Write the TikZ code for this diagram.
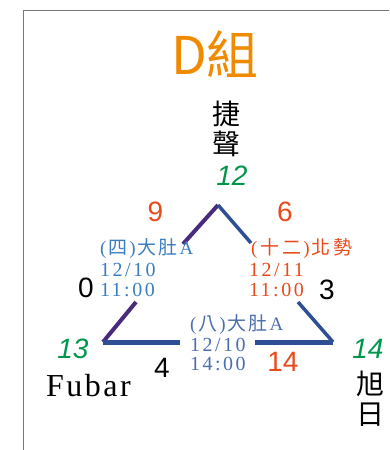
\documentclass[tikz,border=0pt]{standalone}
\usepackage{fontspec}
\setmainfont{Liberation Serif}
\newfontfamily\cjk{Noto Sans CJK TC}
\newfontfamily\numsans{Liberation Sans}
\newfontfamily\numital{Liberation Sans Italic}
\newfontfamily\serifw[LetterSpace=12.5]{Liberation Serif}
\newfontfamily\fubarfont[LetterSpace=8]{Liberation Serif}
\newcommand\vgap{\kern2pt}
\definecolor{titleor}{HTML}{F08A00}
\definecolor{redor}{HTML}{E84A1B}
\definecolor{grn}{HTML}{00964B}
\definecolor{lblue}{HTML}{3A7DC0}
\definecolor{dblue}{HTML}{4A6FAE}
\definecolor{purp}{HTML}{4A2A7C}
\definecolor{lineblue}{HTML}{2E4E95}
\definecolor{frame}{HTML}{777777}
\begin{document}
\begin{tikzpicture}[x=1pt,y=-1pt,
  txt/.style={inner sep=0pt,outer sep=0pt},
  score/.style={txt,font=\numsans\fontsize{28}{28}\selectfont},
  rank/.style={txt,text=grn,font=\numital\fontsize{28}{28}\selectfont},
  team/.style={txt,font=\cjk\fontsize{28}{28}\selectfont},
  venue/.style={txt,anchor=west,font=\rmfamily\fontsize{19}{19}\selectfont},
  date/.style={txt,anchor=west,font=\serifw\fontsize{20}{20}\selectfont},
  pline/.style={draw=purp,line width=4pt},
  bline/.style={draw=lineblue,line width=3.5pt},
]
\useasboundingbox (0,0) rectangle (389,450);
% frame
\draw[frame,line width=1.3pt] (23.5,450) -- (23.5,10.5) -- (389,10.5);
% title
\node[txt,text=titleor,font=\cjk\fontsize{52}{52}\selectfont] (title) at (215,54) {D組};
% top team
\node[team] (t1a) at (226,114) {捷};
\node[team] (t1b) at (226,144) {聲};
\node[rank] (r12) at (232,176) {12};
% corners
\coordinate (apex) at (218,205);
\coordinate (lu) at (183,244);
\coordinate (ll) at (136,302);
\coordinate (bl) at (103,342);
\coordinate (ru) at (251,243);
\coordinate (rl) at (298,302);
\coordinate (br) at (333,342);
\coordinate (bm1) at (180,342);
\coordinate (bm2) at (255,342);
\draw[pline] (apex) -- (lu);
\draw[pline] (ll) -- (bl);
\draw[bline] (apex) -- (ru);
\draw[bline] (rl) -- (br);
\draw[draw=lineblue,line width=5pt] (bl) -- (bm1);
\draw[draw=lineblue,line width=5pt] (bm2) -- (br);
% scores
\node[score,text=redor] (s9) at (155.5,212) {9};
\node[score,text=redor] (s6) at (285,212) {6};
\node[score] (s0) at (86,288) {0};
\node[score] (s3) at (327,290) {3};
\node[score] (s4) at (162,368) {4};
\node[score,text=redor] (s14) at (283,362) {14};
% match labels left
\node[venue,text=lblue] (v1) at (100,249) {(\vgap{\cjk 四}\vgap)\vgap{\cjk 大\vgap 肚}\vgap A};
\node[date,text=lblue] (d1) at (100,270) {12/10};
\node[date,text=lblue] (h1) at (100,290) {11:00};
% match labels right
\node[venue,text=redor] (v2) at (251,249) {(\kern3pt{\cjk 十\kern3pt 二}\kern2pt)\kern2pt{\cjk 北\kern3pt 勢}};
\node[date,text=redor] (d2) at (249,270) {12/11};
\node[date,text=redor] (h2) at (249,290) {11:00};
% match labels bottom
\node[venue,text=dblue] (v3) at (190,325) {(\vgap{\cjk 八}\vgap)\vgap{\cjk 大\vgap 肚}\vgap A};
\node[date,text=dblue] (d3) at (190,345) {12/10};
\node[date,text=dblue] (h3) at (190,364) {14:00};
% bottom teams
\node[rank] (r13) at (73,349) {13};
\node[rank] (r14) at (368,349) {14};
\node[txt,anchor=west,font=\fubarfont\fontsize{32}{32}\selectfont] (fubar) at (46,385.5) {Fubar};
\node[team] (t3a) at (370,384) {旭};
\node[team] (t3b) at (370,415) {日};
\end{tikzpicture}
\end{document}
